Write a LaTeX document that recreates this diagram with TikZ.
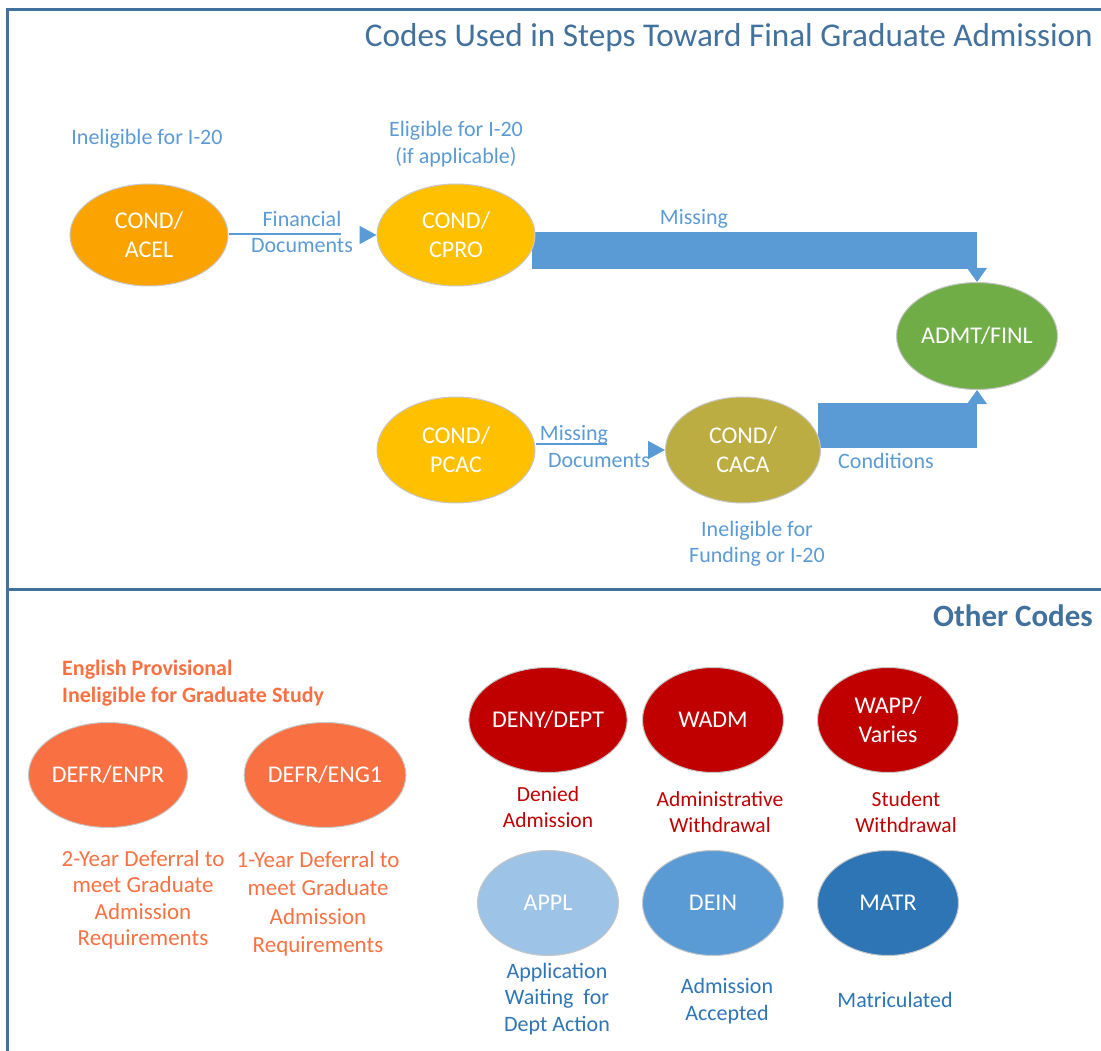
\documentclass[tikz,border=0pt]{standalone}
\usepackage{fontspec}
\setmainfont{Carlito}
\usetikzlibrary{shapes.geometric,arrows.meta,backgrounds}
\definecolor{framec}{HTML}{41719C}
\definecolor{bandc}{HTML}{5B9BD5}
\definecolor{acelc}{HTML}{FBA300}
\definecolor{goldc}{HTML}{FFC000}
\definecolor{olivec}{HTML}{BCAD43}
\definecolor{greenc}{HTML}{70AD47}
\definecolor{defrc}{HTML}{F97142}
\definecolor{redc}{HTML}{C00000}
\definecolor{lightc}{HTML}{9DC3E6}
\definecolor{midc}{HTML}{5B9BD5}
\definecolor{darkc}{HTML}{2E75B6}
\begin{document}
\begin{tikzpicture}[x=1pt,y=-1pt,
	code/.style={ellipse,draw=black!22,line width=1pt,text=white,minimum width=158pt,minimum height=102pt,inner sep=0pt,align=center,font=\fontsize{24}{29}\selectfont},
	small/.style={code,minimum width=141pt,minimum height=105pt},
	lbl/.style={align=center,inner sep=0pt,font=\fontsize{22}{26.5}\selectfont},
	band/.style={fill=bandc},
	conn/.style={draw=bandc,line width=1.5pt},
	frame/.style={draw=framec,line width=3pt}]
	\useasboundingbox (0,0) rectangle (1101,1051);
	
	% Rahmen und Trennlinie
	\draw[frame] (7,1051) -- (7,10) -- (1101,10);
	\draw[frame] (7,589) -- (1101,589);
	
	% Ueberschriften
	\node[anchor=east,inner sep=0pt,text=framec,font=\fontsize{33.2}{38}\selectfont] (title) at (1093,38) {Codes Used in Steps Toward Final Graduate Admission};
	\node[anchor=east,inner sep=0pt,text=framec,font=\fontsize{31}{38}\bfseries] (other) at (1093,616) {Other Codes};
	
	% Obere Codes
	\node[code,fill=acelc] (acel) at (149,235) {COND/\\ACEL};
	\node[code,fill=goldc] (cpro) at (456,235) {COND/\\CPRO};
	\node[code,fill=greenc,minimum width=161pt,minimum height=107pt] (admt) at (977,336) {ADMT/FINL};
	\node[code,fill=goldc,minimum height=106pt] (pcac) at (456,450) {COND/\\PCAC};
	\node[code,fill=olivec,minimum width=155pt,minimum height=106pt] (caca) at (743,450) {COND/\\CACA};
	
	% Breite Pfeile zu ADMT/FINL
	\begin{pgfonlayer}{background}
		\fill[band] ([xshift=-4pt]cpro.east |- 0,232) -- (admt.north |- 0,232) -- (admt.north |- 0,269) -- ([xshift=-4pt]cpro.east |- 0,269) -- cycle;
		\fill[band] ([xshift=-3pt]caca.east |- 0,403) -- (admt.south |- 0,403) -- (admt.south |- 0,448) -- ([xshift=-3pt]caca.east |- 0,448) -- cycle;
	\end{pgfonlayer}
	\fill[band] ([xshift=-10pt]admt.north |- 0,268) -- ([xshift=10pt]admt.north |- 0,268) -- (admt.north) -- cycle;
	\fill[band] ([xshift=-10pt]admt.south |- 0,404) -- ([xshift=10pt]admt.south |- 0,404) -- (admt.south) -- cycle;
	
	% Duenne Pfeile
	\coordinate (fin) at (341,234);
	\coordinate (mis) at (607,444);
	\draw[conn] (acel.east |- fin) -- (fin);
	\draw[conn] (pcac.east |- mis) -- (mis);
	\draw[conn,-{Triangle[length=17pt,width=18pt]}] ([xshift=-17pt]cpro.west) -- (cpro.west);
	\draw[conn,-{Triangle[length=17pt,width=18pt]}] ([xshift=-17pt]caca.west) -- (caca.west);
	
	% Beschriftungen oben
	\node[lbl,text=bandc] (l1) at (147,139) {Ineligible for I-20};
	\node[lbl,text=bandc] (l2) at (456,144) {Eligible for I-20\\(if applicable)};
	\node[lbl,text=bandc] (l3) at (302,232) {Financial\\Documents};
	\node[lbl,text=bandc] (l4) at (694,219) {Missing};
	\node[lbl,text=bandc] (l5) at (574,435) {Missing};
	\node[lbl,text=bandc] (l5b) at (599,461) {Documents};
	\node[lbl,text=bandc] (l6) at (886,461) {Conditions};
	\node[lbl,text=bandc] (l7) at (757,544) {Ineligible for\\Funding or I-20};
	
	% Untere Codes
	\node[lbl,anchor=west,align=left,text=defrc,font=\fontsize{22}{27}\bfseries] (eng) at (62,683) {English Provisional\\Ineligible for Graduate Study};
	\node[code,fill=defrc,minimum width=155pt,minimum height=105pt] (enpr) at (108,775) {DEFR/ENPR};
	\node[code,fill=defrc,minimum width=155pt,minimum height=105pt] (eng1) at (325,775) {DEFR/ENG1};
	\node[lbl,text=defrc,font=\fontsize{23}{26.5}\selectfont] (l8) at (143,900) {2-Year Deferral to\\meet Graduate\\Admission\\Requirements};
	\node[lbl,text=defrc,font=\fontsize{23}{28.5}\selectfont] (l9) at (318,904) {1-Year Deferral to\\meet Graduate\\Admission\\Requirements};
	
	\node[small,fill=redc] (deny) at (548,720) {DENY/DEPT};
	\node[small,fill=redc] (wadm) at (713,720) {WADM};
	\node[small,fill=redc] (wapp) at (888,720) {WAPP/\\Varies};
	\node[small,fill=lightc] (appl) at (548,903) {APPL};
	\node[small,fill=midc] (dein) at (713,903) {DEIN};
	\node[small,fill=darkc] (matr) at (888,903) {MATR};
	
	\node[lbl,text=redc,font=\fontsize{21.5}{26.5}\selectfont] (l10) at (548,807) {Denied\\Admission};
	\node[lbl,text=redc,font=\fontsize{21.5}{26.5}\selectfont] (l11) at (720,812) {Administrative\\Withdrawal};
	\node[lbl,text=redc,font=\fontsize{21.5}{26.5}\selectfont] (l12) at (906,812) {Student\\Withdrawal};
	\node[lbl,text=darkc] (l13) at (557,999) {Application\\Waiting~ for\\Dept Action};
	\node[lbl,text=darkc] (l14) at (727,1001) {Admission\\Accepted};
	\node[lbl,text=darkc] (l15) at (895,1000) {Matriculated};
\end{tikzpicture}
\end{document}
